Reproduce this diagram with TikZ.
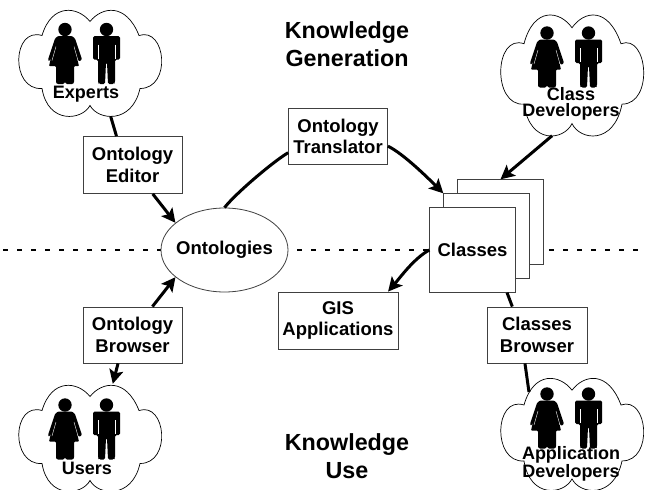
\documentclass[tikz,border=0pt]{standalone}
\usepackage{fontspec}
\setmainfont{Liberation Sans}
\usetikzlibrary{arrows.meta,shapes.geometric}
\newcommand{\lbl}{\fontsize{18}{22}\selectfont\bfseries}
\newcommand{\boxlbl}{\fontsize{18.5}{21.5}\selectfont\bfseries}
\tikzset{
 boxnode/.style={draw=black!75,line width=0.8pt,fill=white,align=center,font=\boxlbl,inner sep=0pt},
 pagebox/.style={boxnode,minimum width=85.5pt,minimum height=84.5pt},
 plain/.style={align=center,font=\lbl,inner sep=0pt},
 tight/.style={align=center,font=\fontsize{18}{15.5}\selectfont\bfseries,inner sep=0pt},
 wide/.style={align=center,font=\fontsize{23.3}{28}\selectfont\bfseries,inner sep=0pt},
 cloudarea/.style={inner sep=0pt,minimum width=142pt},
 link/.style={line width=3pt,black},
 arrowlink/.style={link,-{Stealth[length=14pt,width=14pt,inset=3pt]}},
 cloudline/.style={draw=black,line width=0.7pt,fill=white},
 dots/.style={line width=1.7pt,dash pattern=on 5pt off 9pt},
}
% name, cx, cy, cloud height, people shift
\newcommand{\peoplecloud}[5]{%
 \node[cloudarea,minimum height=#4pt] (#1) at (#2,#3) {};
 \begin{scope}[shift={(#2,#3)}]
  \pgfmathsetmacro{\ys}{#4/107}
  \begin{scope}[yscale=\ys]
  \path[cloudline] (0,-41) .. controls (12,-56) and (36,-60) .. (49,-27)
    .. controls (76,-36) and (82,26) .. (50,26)
    .. controls (42,62) and (8,58) .. (0,43)
    .. controls (-8,58) and (-42,62) .. (-48,26)
    .. controls (-80,28) and (-78,-36) .. (-48,-27)
    .. controls (-38,-60) and (-12,-56) .. (0,-41) -- cycle;
  \end{scope}
  \begin{scope}[shift={(0,#5)}]
   % woman
   \fill (-25,-33) circle (6.7);
   \fill[rounded corners=1pt] (-32,-26.5) -- (-18,-26.5) -- (-15,-24) -- (-8,-3) -- (-11,-1) -- (-13,-5) -- (-11,3.7) -- (-16,3.7) -- (-16,20) -- (-17,21.5) -- (-24,21.5) -- (-25,19) -- (-26,21.5) -- (-33,21.5) -- (-34,20) -- (-34,3.7) -- (-41,3.7) -- (-39,-5) -- (-41,-1) -- (-42,-3) -- (-35,-24) -- cycle;
   \draw[white,line width=0.4pt] (-34,-16) -- (-38,-2) (-16,-16) -- (-12,-2);
   % man
   \fill (16.5,-33) circle (6.7);
   \fill[rounded corners=1.5pt] (3,-26.5) -- (30,-26.5) -- (30,-3) -- (25,-3) -- (25,20) -- (24,21.5) -- (18,21.5) -- (17,0) -- (16,0) -- (15,21.5) -- (9,21.5) -- (8,20) -- (8,-3) -- (3,-3) -- cycle;
   \draw[white,line width=0.4pt] (8,-18) -- (8,-4) (25,-18) -- (25,-4);
  \end{scope}
 \end{scope}}
\begin{document}
\begin{tikzpicture}[x=1pt,y=-1pt]
\useasboundingbox (0,0) rectangle (646,490);
\path[fill=white] (0,0) rectangle (646,490);
\coordinate (dotL) at (3,250);
\coordinate (dotR) at (646,250);
\draw[dots] (dotL) -- (dotR);

\peoplecloud{experts}{90}{62.5}{107}{0}
\peoplecloud{classdev}{572}{74.5}{122}{-8.5}
\peoplecloud{users}{90}{437.5}{107}{0.5}
\peoplecloud{appdev}{572}{433.5}{113}{-6.5}
\coordinate (appport) at (529,392);

\node[plain] (lexp) at (86,94) {Experts};
\node[tight] (lcd) at (571,104) {Class\\Developers};
\node[plain] (lusr) at (87,468) {Users};
\node[tight] (lapp) at (571,464) {Application\\Developers};
\node[wide] (kg) at (347,44) {Knowledge\\Generation};
\node[wide] (ku) at (347,456) {Knowledge\\Use};

\node[boxnode,minimum width=99pt,minimum height=57pt] (editor) at (132.5,165) {Ontology\\Editor};
\node[boxnode,minimum width=99pt,minimum height=56.5pt] (translator) at (338,136.5) {Ontology\\Translator};
\node[boxnode,minimum width=99pt,minimum height=56pt] (obrowser) at (132.5,335) {Ontology\\Browser};
\node[boxnode,minimum width=120pt,minimum height=57pt] (gis) at (338,320.5) {GIS\\Applications};
\node[boxnode,minimum width=100pt,minimum height=56pt] (cbrowser) at (537,335) {Classes\\Browser};
\node[boxnode,ellipse,inner xsep=-8pt,inner ysep=0pt,minimum width=127pt,minimum height=84pt] (onto) at (224.5,250) {Ontologies};
\node[pagebox] (pageC) at (500.5,222) {};
\node[pagebox] (pageB) at (486.5,236) {};
\node[pagebox] (pageA) at (472.5,250) {Classes};

\draw[link] (experts.-69.5) -- (editor.119);
\draw[arrowlink] (editor.-55.6) -- (onto.151);
\draw[arrowlink] (obrowser.55) -- (onto.-151);
\draw[arrowlink] (obrowser.-117.4) -- (users.67);
\draw[link] (onto.north) .. controls +(12,-15) and +(-15,9) .. (translator.-162);
\draw[arrowlink] (translator.-11) .. controls +(15,7) and +(-15,-15) .. (pageB.north west);
\draw[arrowlink] (classdev.-108) -- (pageC.north);
\draw[arrowlink] (pageA.west) .. controls +(-15,8) and +(12,-14) .. (gis.30);
\draw[link] (pageA.-51.4) -- (cbrowser.131.8);
\draw[link] (cbrowser.-113) -- (appport);
\end{tikzpicture}
\end{document}
